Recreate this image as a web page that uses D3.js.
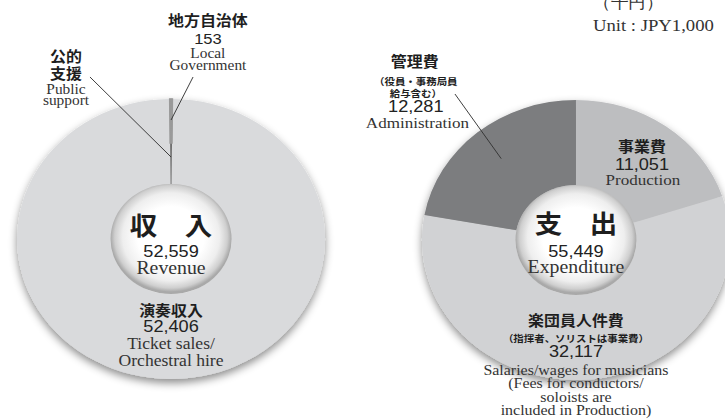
<!DOCTYPE html>
<head>
  <meta charset="utf-8">
  <script src="https://cdn.jsdelivr.net/npm/d3@7/dist/d3.min.js"></script>
  <style>
    body { margin:0; background:#fff; }
    .jp { font-family:"Noto Sans CJK JP", sans-serif; font-weight:700; fill:#1e1e1e; }
    .num { font-family:"Liberation Sans", Arial, sans-serif; fill:#222; }
    .en { font-family:"Liberation Serif", "Times New Roman", serif; fill:#333; }
  </style>
</head>
<body>
  <script>
    // revenue (thousand yen)
    var revenueCats = ["公的支援", "演奏収入"];
    var revenueValues = [153, 52406];
    var localGov = 153;
    var revenueTotal = 52559;

    // expenditure (thousand yen)
    var expenseCats = ["事業費", "楽団員人件費", "管理費"];
    var expenseValues = [11051, 32117, 12281];
    var expenseColors = ["#bdbec0", "#d1d2d4", "#7c7d7f"];
    var expenseTotal = 55449;

    var width = 725, height = 420, sx = 1.1;
    var R = 140, r0 = 55;
    var cL = [155.5, 239], cR = [523.6, 240];

    var svg = d3.select("body").append("svg")
      .attr("width", width)
      .attr("height", height);

    var defs = svg.append("defs");
    var f = defs.append("filter").attr("id", "shadow")
      .attr("x", "-20%").attr("y", "-20%").attr("width", "140%").attr("height", "140%");
    f.append("feDropShadow").attr("dx", 0).attr("dy", 4)
      .attr("stdDeviation", 4).attr("flood-color", "#000").attr("flood-opacity", 0.45);

    var grad = defs.append("radialGradient").attr("id", "hole")
      .attr("cx", "50%").attr("cy", "48%").attr("r", "50%");
    [[0, "#ffffff"], [0.55, "#ffffff"], [0.8, "#eeeeee"], [0.93, "#cfcfcf"], [1, "#a9a9a9"]]
      .forEach(function(s) {
        grad.append("stop").attr("offset", s[0]).attr("stop-color", s[1]);
      });

    var g = svg.append("g").attr("transform", "scale(" + sx + ",1)");

    var arc = d3.arc().innerRadius(r0).outerRadius(R);

    // left donut : revenue
    var a = 2 * Math.PI * revenueValues[0] / revenueTotal;
    var pieL = d3.pie().sort(null).value(function(d) { return d; })
      .startAngle(-a / 2).endAngle(2 * Math.PI - a / 2);
    var arcsL = pieL(revenueValues);

    var gl = g.append("g").attr("transform", "translate(" + cL + ")");
    gl.append("g").attr("filter", "url(#shadow)")
      .selectAll("path").data(arcsL).enter().append("path")
      .attr("d", arc)
      .attr("fill", function(d, i) { return i == 0 ? "#6f6f6f" : "#d9dadc"; })
      .attr("stroke", function(d, i) { return i == 0 ? "#6f6f6f" : "none"; })
      .attr("stroke-width", 0.5);

    // local government share inside public support
    var rMid = 96;
    gl.append("path")
      .attr("d", d3.arc().innerRadius(rMid).outerRadius(R)
        .startAngle(arcsL[0].startAngle)
        .endAngle(arcsL[0].startAngle + a * localGov / revenueValues[0])())
      .attr("fill", "#9a9a9a").attr("stroke", "#9a9a9a").attr("stroke-width", 1.3);

    gl.append("circle").attr("r", r0).attr("fill", "url(#hole)");

    // right donut : expenditure
    var pieR = d3.pie().sort(null).value(function(d) { return d; });
    var arcsR = pieR(expenseValues);
    var gr = g.append("g").attr("transform", "translate(" + cR + ")");
    gr.append("g").attr("filter", "url(#shadow)")
      .selectAll("path").data(arcsR).enter().append("path")
      .attr("d", arc)
      .attr("fill", function(d, i) { return expenseColors[i]; });
    gr.append("circle").attr("r", r0).attr("fill", "url(#hole)");

    // leader lines
    function polar(c, ang, rad) {
      return [c[0] + rad * Math.sin(ang), c[1] - rad * Math.cos(ang)];
    }
    var leaders = [
      [[81.8, 77], polar(cL, 0, 82)],
      [[175.5, 77], polar(cL, 0, 119)],
      [[413.6, 94], polar(cR, (arcsR[2].startAngle + arcsR[2].endAngle) / 2, 106)]
    ];
    g.selectAll("line.leader").data(leaders).enter().append("line")
      .attr("class", "leader")
      .attr("x1", function(d) { return d[0][0]; }).attr("y1", function(d) { return d[0][1]; })
      .attr("x2", function(d) { return d[1][0]; }).attr("y2", function(d) { return d[1][1]; })
      .attr("stroke", "#333").attr("stroke-width", 0.9);

    function txt(x, y, s, cls, size, anchor) {
      g.append("text").attr("class", cls)
        .attr("x", x).attr("y", y)
        .attr("text-anchor", anchor || "middle")
        .style("font-size", size + "px")
        .text(s);
    }
    var fmt = d3.format(",");

    // unit
    txt(539, 8, "（千円）", "en", 16, "start");
    txt(539, 31, "Unit : JPY1,000", "en", 17, "start");

    // revenue labels
    txt(189, 26, "地方自治体", "jp", 14.5);
    txt(189, 44, fmt(localGov), "num", 15);
    txt(189, 58, "Local", "en", 14);
    txt(189, 70, "Government", "en", 14);

    txt(60, 62, "公的", "jp", 14.5);
    txt(60, 79, "支援", "jp", 14.5);
    txt(60, 94, "Public", "en", 14);
    txt(60, 105, "support", "en", 14);

    txt(cL[0], 235, "収　入", "jp", 25);
    txt(cL[0], 257, fmt(revenueTotal), "num", 16.5);
    txt(cL[0], 274, "Revenue", "en", 18);

    txt(cL[0], 316, revenueCats[1], "jp", 14.5);
    txt(cL[0], 332, fmt(revenueValues[1]), "num", 16.5);
    txt(cL[0], 349, "Ticket sales/", "en", 16);
    txt(cL[0], 366, "Orchestral hire", "en", 16);

    // expenditure labels
    txt(377, 67, expenseCats[2], "jp", 14.5);
    txt(378, 85.5, "（役員・事務局員", "jp", 9.5);
    txt(378, 97, "給与含む）", "jp", 9.5);
    txt(378, 112, fmt(expenseValues[2]), "num", 16.5);
    txt(379.5, 128, "Administration", "en", 15.5);

    txt(583.6, 152, expenseCats[0], "jp", 14.5);
    txt(583.6, 170, fmt(expenseValues[0]), "num", 16.5);
    txt(584.5, 185, "Production", "en", 15.5);

    txt(cR[0], 233, "支　出", "jp", 25);
    txt(cR[0], 257, fmt(expenseTotal), "num", 16.5);
    txt(cR[0], 273, "Expenditure", "en", 18);

    txt(cR[0], 326, expenseCats[1], "jp", 14.5);
    txt(cR[0], 342, "（指揮者、ソリストは事業費）", "jp", 9.5);
    txt(cR[0], 357, fmt(expenseValues[1]), "num", 16.5);
    txt(cR[0], 375, "Salaries/wages for musicians", "en", 14.5);
    txt(cR[0], 388, "(Fees for conductors/", "en", 14.5);
    txt(cR[0], 402, "soloists are", "en", 14.5);
    txt(cR[0], 415, "included in Production)", "en", 14.5);
  </script>
</body>
